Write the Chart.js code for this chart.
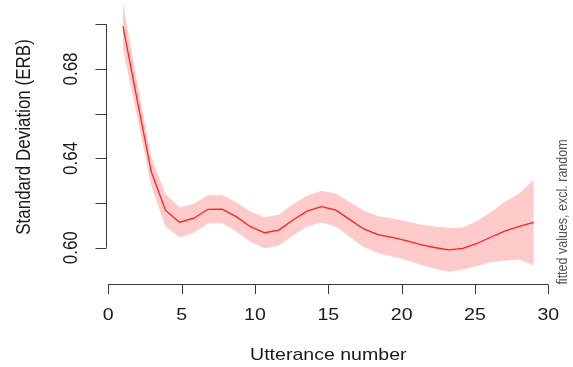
<!DOCTYPE html>
<html>
<head>
<meta charset="utf-8">
<script src="https://cdn.jsdelivr.net/npm/chart.js@4.4.1/dist/chart.umd.min.js"></script>
<style>
  html, body { margin: 0; padding: 0; background: #ffffff; }
  #wrap { width: 573px; height: 367px; }
</style>
</head>
<body>
<div id="wrap"><canvas id="c" width="573" height="367"></canvas></div>
<script>
// ---- data ----
const utterance = [1, 1.97, 2.93, 3.9, 4.86, 5.83, 6.79, 7.76, 8.72, 9.69,
  10.66, 11.62, 12.59, 13.55, 14.52, 15.48, 16.45, 17.41, 18.38, 19.34,
  20.31, 21.28, 22.24, 23.21, 24.17, 25.14, 26.1, 27.07, 28.03, 29];
const sdFit = [0.6992, 0.6661, 0.6340, 0.6167, 0.6114, 0.6132, 0.6172, 0.6173, 0.6139, 0.6094,
  0.6067, 0.6079, 0.6124, 0.6164, 0.6184, 0.6169, 0.6127, 0.6084, 0.6059, 0.6046,
  0.6032, 0.6014, 0.6001, 0.5990, 0.5997, 0.6019, 0.6048, 0.6075, 0.6095, 0.6113];
const sdUpper = [0.7095, 0.6737, 0.6403, 0.6239, 0.6181, 0.6197, 0.6235, 0.6236, 0.6204, 0.6161,
  0.6136, 0.6148, 0.6193, 0.6233, 0.6255, 0.6243, 0.6205, 0.6165, 0.6142, 0.6131,
  0.6119, 0.6104, 0.6095, 0.6088, 0.6091, 0.6120, 0.6160, 0.6207, 0.6243, 0.6305];
const sdLower = [0.6889, 0.6585, 0.6277, 0.6095, 0.6047, 0.6067, 0.6109, 0.6110, 0.6074, 0.6027,
  0.5998, 0.6010, 0.6055, 0.6095, 0.6113, 0.6095, 0.6049, 0.6003, 0.5976, 0.5961,
  0.5945, 0.5924, 0.5907, 0.5892, 0.5903, 0.5918, 0.5936, 0.5943, 0.5947, 0.5921];
const xTicks = [0, 5, 10, 15, 20, 25, 30];
const yTicks = [0.60, 0.62, 0.64, 0.66, 0.68, 0.70];
const yTickLabels = [0.60, 0.64, 0.68];
const xTitle = 'Utterance number';
const yTitle = 'Standard Deviation (ERB)';
const sideNote = 'fitted values, excl. random';

// ---- build ----
const pts = (ys) => utterance.map((x, i) => ({ x: x, y: ys[i] }));
const FONT = '"Liberation Sans", Arial, Helvetica, sans-serif';
const TXT_STRETCH = 1.15;

const rAxes = {
  id: 'rAxes',
  afterDraw(chart) {
    const ctx = chart.ctx;
    const xs = chart.scales.x, ys = chart.scales.y;
    ctx.save();
    ctx.strokeStyle = '#3a3a3a';
    ctx.lineWidth = 1;
    // y axis
    const ax = Math.round(xs.getPixelForValue(0) - 2) + 0.5;
    ctx.beginPath();
    ctx.moveTo(ax, ys.getPixelForValue(yTicks[0]));
    ctx.lineTo(ax, ys.getPixelForValue(yTicks[yTicks.length - 1]));
    yTicks.forEach(v => {
      const py = Math.round(ys.getPixelForValue(v)) + 0.5;
      ctx.moveTo(ax, py);
      ctx.lineTo(ax - 11, py);
    });
    ctx.stroke();
    // x axis
    const ay = 284.5;
    ctx.beginPath();
    ctx.moveTo(xs.getPixelForValue(xTicks[0]), ay);
    ctx.lineTo(xs.getPixelForValue(xTicks[xTicks.length - 1]), ay);
    xTicks.forEach(v => {
      const px = Math.round(xs.getPixelForValue(v)) + 0.5;
      ctx.moveTo(px, ay);
      ctx.lineTo(px, ay + 9.5);
    });
    ctx.stroke();

    ctx.fillStyle = '#1a1a1a';
    ctx.font = '17px ' + FONT;
    ctx.textAlign = 'center';
    ctx.textBaseline = 'middle';
    // x tick labels
    xTicks.forEach(v => {
      ctx.save();
      ctx.translate(xs.getPixelForValue(v), 315);
      ctx.scale(TXT_STRETCH, 1);
      ctx.fillText(String(v), 0, 0);
      ctx.restore();
    });
    // x title
    ctx.save();
    ctx.translate(xs.getPixelForValue(15), 355);
    ctx.scale(TXT_STRETCH, 1);
    ctx.fillText(xTitle, 0, 0);
    ctx.restore();
    // y tick labels (rotated)
    yTickLabels.forEach(v => {
      ctx.save();
      ctx.translate(72, ys.getPixelForValue(v));
      ctx.scale(TXT_STRETCH, 1);
      ctx.rotate(-Math.PI / 2);
      ctx.fillText(v.toFixed(2), 0, 0);
      ctx.restore();
    });
    // y title
    ctx.save();
    ctx.translate(25, ys.getPixelForValue(0.65) + 1);
    ctx.scale(TXT_STRETCH, 1);
    ctx.rotate(-Math.PI / 2);
    ctx.fillText(yTitle, 0, 0);
    ctx.restore();
    // side note
    ctx.save();
    ctx.fillStyle = '#555555';
    ctx.font = '12.5px ' + FONT;
    ctx.translate(563, 212);
    ctx.scale(TXT_STRETCH, 1);
    ctx.rotate(-Math.PI / 2);
    ctx.fillText(sideNote, 0, 0);
    ctx.restore();
    ctx.restore();
  }
};

new Chart(document.getElementById('c'), {
  type: 'line',
  data: {
    datasets: [
      {
        label: 'fit',
        data: pts(sdFit),
        borderColor: '#ff2020',
        borderWidth: 1.3,
        pointRadius: 0,
        fill: false,
        tension: 0,
        order: 0
      },
      {
        label: 'lower',
        data: pts(sdLower),
        borderWidth: 0,
        borderColor: 'rgba(0,0,0,0)',
        pointRadius: 0,
        fill: false,
        tension: 0,
        order: 1
      },
      {
        label: 'upper',
        data: pts(sdUpper),
        borderWidth: 0,
        borderColor: 'rgba(0,0,0,0)',
        backgroundColor: '#ffcaca',
        pointRadius: 0,
        fill: '-1',
        tension: 0,
        order: 1
      }
    ]
  },
  options: {
    responsive: false,
    devicePixelRatio: 1,
    animation: false,
    events: [],
    layout: { padding: { left: 93.63, right: 10.03, top: 1.96, bottom: 74.6 } },
    plugins: { legend: { display: false }, tooltip: { enabled: false }, title: { display: false } },
    scales: {
      x: { type: 'linear', min: -1, max: 31, display: false },
      y: { type: 'linear', min: 0.58, max: 0.71, display: false }
    }
  },
  plugins: [rAxes]
});
</script>
</body>
</html>
